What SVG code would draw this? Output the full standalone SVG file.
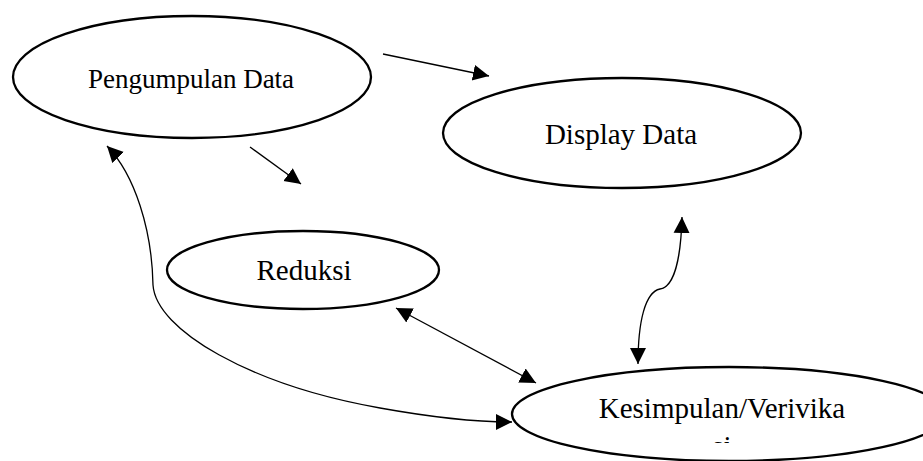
<svg xmlns="http://www.w3.org/2000/svg" width="923" height="461" viewBox="0 0 923 461">
<style>
.node ellipse{fill:#fff;stroke:#000;stroke-width:2.3}
.lbl{font-family:"Liberation Serif","Times New Roman",serif;font-size:29px;fill:#000;text-anchor:middle}
.conn path{fill:none;stroke:#000;stroke-width:1.3}
</style>
<defs>
<marker id="ah" markerUnits="userSpaceOnUse" markerWidth="18" markerHeight="18" refX="16" refY="8.5" orient="auto-start-reverse">
<path d="M0,0.5 L16,8.5 L0,16.5 z" fill="#000"/>
</marker>
<clipPath id="kclip"><rect x="500" y="350" width="423" height="93"/></clipPath>
</defs>
<rect width="923" height="461" fill="#fff"/>
<g id="pengumpulan" class="node">
<ellipse cx="192" cy="77" rx="179" ry="61"/>
<text class="lbl" x="191" y="88" style="font-size:27px">Pengumpulan Data</text>
</g>
<g id="display" class="node">
<ellipse cx="622" cy="133" rx="179" ry="55"/>
<text class="lbl" x="621" y="144">Display Data</text>
</g>
<g id="reduksi" class="node">
<ellipse cx="303" cy="270" rx="136" ry="39"/>
<text class="lbl" x="304" y="280">Reduksi</text>
</g>
<g id="kesimpulan" class="node">
<ellipse cx="729" cy="414" rx="217" ry="47"/>
<text class="lbl" x="722" y="418">Kesimpulan/Verivika</text>
<text class="lbl" x="722" y="456" clip-path="url(#kclip)">si</text>
</g>
<g id="connectors" class="conn">
<path d="M383,54 L489,76" marker-end="url(#ah)"/>
<path d="M250,147 L301,184" marker-end="url(#ah)"/>
<path d="M396,308 L536,383" marker-start="url(#ah)" marker-end="url(#ah)"/>
<path d="M682,217 C681,255 675,287 660,289 C645,292 638,322 638,364" marker-start="url(#ah)" marker-end="url(#ah)"/>
<path d="M107,146 C135,175 152,230 153,285 C156,330 250,385 380,408 C430,417 480,422 512,422" marker-start="url(#ah)" marker-end="url(#ah)"/>
</g>
</svg>
